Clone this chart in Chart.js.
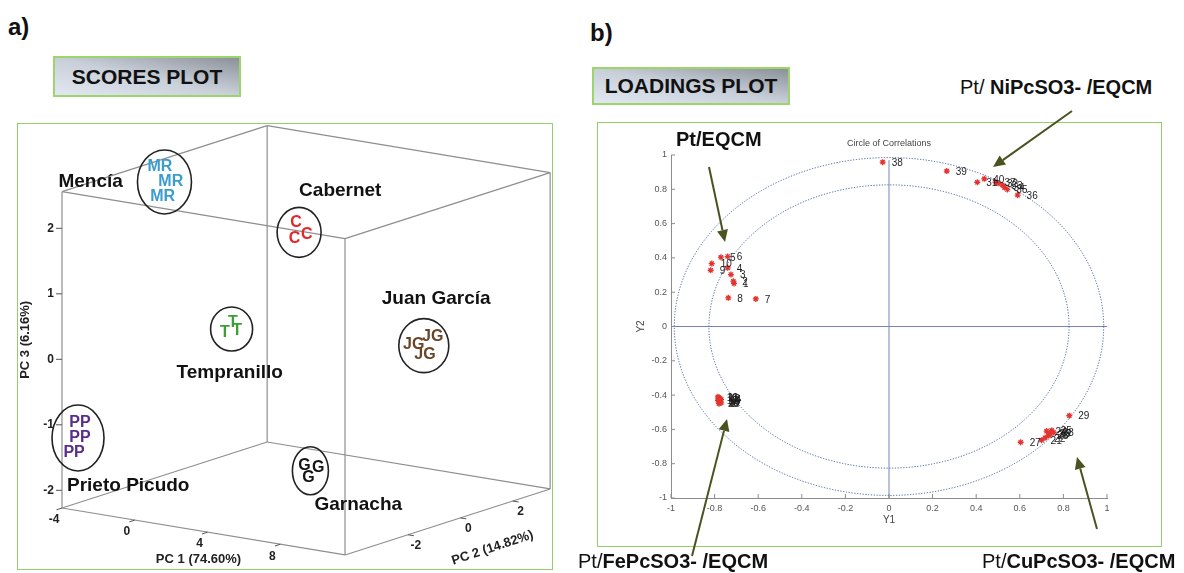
<!DOCTYPE html>
<html>
<head>
<meta charset="utf-8">
<title>Scores and loadings plot</title>
<script src="https://cdn.jsdelivr.net/npm/chart.js@4.4.1/dist/chart.umd.min.js"></script>
<style>
  body { margin: 0; width: 1184px; height: 573px; position: relative; overflow: hidden; background: #fff;
         font-family: "Liberation Sans", Arial, sans-serif; color: #111; }
  .abs { position: absolute; white-space: nowrap; line-height: 1; transform: translateY(-50%); }
  .tag { font-size: 24px; font-weight: bold; }
  .box { position: absolute; box-sizing: border-box; border: 2px solid #9dd46b; font-weight: bold; font-size: 21px;
         display: flex; align-items: center; justify-content: center;
         background: linear-gradient(to top right, #e2e8f1 0%, #c8cfd9 50%, #8b9198 100%); }
  .frame { position: absolute; box-sizing: border-box; border: 1.5px solid #93cf68; }
  .note { font-size: 20px; font-weight: bold; }
  .note span { font-weight: normal; }
  canvas { position: absolute; }
</style>
</head>
<body>
<div class="abs tag" style="left:8px;top:27px">a)</div>
<div class="abs tag" style="left:590px;top:33px">b)</div>
<div class="box" style="left:53px;top:56px;width:188px;height:41px">SCORES PLOT</div>
<div class="box" style="left:592px;top:67px;width:198px;height:38px">LOADINGS PLOT</div>
<div class="frame" style="left:17px;top:123px;width:536px;height:447px"></div>
<div class="frame" style="left:597px;top:122px;width:565px;height:425px"></div>
<canvas id="scores" width="560" height="463" style="left:0;top:110px"></canvas>
<canvas id="loadings" width="594" height="463" style="left:590px;top:110px"></canvas>
<div class="abs note" style="left:676px;top:139px">Pt/EQCM</div>
<div class="abs note" style="left:960px;top:87px"><span>Pt/</span> NiPcSO3- /EQCM</div>
<div class="abs note" style="left:578px;top:561px"><span>Pt/</span>FePcSO3- /EQCM</div>
<div class="abs note" style="left:982px;top:561px"><span>Pt/</span>CuPcSO3- /EQCM</div>

<script>
var FONT = '"Liberation Sans", Arial, sans-serif';

// a) scores: three replicates per wine
var wines = ['Mencía', 'Cabernet', 'Tempranillo', 'Juan García', 'Prieto Picudo', 'Garnacha'];
var wineCodes = ['MR', 'C', 'T', 'JG', 'PP', 'G'];
var pc1Scores = [[-3.67, -3.06, -3.15], [3.89, 4.52, 4.16], [1.90, 2.16, 2.48], [9.13, 8.99, 9.78], [-3.55, -3.34, -3.71], [5.01, 5.35, 5.40]];
var pc2Scores = [[-0.89, -0.90, -1.15], [-0.95, -0.98, -1.19], [-2.28, -2.16, -2.22], [0.63, 0.00, -0.12], [-4.03, -4.17, -4.14], [-1.40, -1.12, -1.52]];
var pc3Scores = [[2.50, 2.30, 2.10], [2.00, 1.85, 1.80], [0.40, 0.55, 0.45], [0.30, 0.25, 0.15], [-1.00, -1.20, -1.45], [-1.60, -1.65, -1.75]];
var pcLimits = [[-4, 11.55], [-4.4, 3.43], [-2.27, 2.56]];
var pc1Ticks = [-4, 0, 4, 8];
var pc2Ticks = [-2, 0, 2];
var pc3Ticks = [-2, -1, 0, 1, 2];
var pcTitles = ['PC 1 (74.60%)', 'PC 2 (14.82%)', 'PC 3 (6.16%)'];

// b) loadings of the 40 sensor variables
var sensorIds = [1, 2, 3, 4, 5, 6, 7, 8, 9, 10, 11, 12, 13, 14, 15, 16, 17, 18, 19, 20,
                 21, 22, 23, 24, 25, 26, 27, 28, 29, 30, 31, 32, 33, 34, 35, 36, 37, 38, 39, 40];
var loadY1 = [-0.711, -0.714, -0.725, -0.74, -0.771, -0.74, -0.611, -0.737, -0.818, -0.813,
              -0.78, -0.775, -0.785, -0.77, -0.78, -0.775, -0.77, -0.785, -0.775, -0.78,
              0.70, 0.716, 0.731, 0.723, 0.746, 0.74, 0.604, 0.755, 0.827, 0.735,
              0.405, 0.50, 0.52, 0.53, 0.543, 0.59, 0.489, -0.029, 0.265, 0.437];
var loadY2 = [0.251, 0.264, 0.303, 0.342, 0.404, 0.408, 0.161, 0.167, 0.328, 0.367,
              -0.415, -0.42, -0.43, -0.425, -0.44, -0.435, -0.445, -0.41, -0.43, -0.45,
              -0.663, -0.649, -0.636, -0.61, -0.606, -0.625, -0.675, -0.618, -0.52, -0.628,
              0.841, 0.835, 0.825, 0.81, 0.799, 0.766, 0.841, 0.958, 0.906, 0.861];
var loadTicks = [-1, -0.8, -0.6, -0.4, -0.2, 0, 0.2, 0.4, 0.6, 0.8, 1];
var circleRadii = [0.985, 0.826];

// styles
var wineColors = ['#3a9dcc', '#e5262b', '#3b9f35', '#6b4526', '#5a2c8c', '#151515'];
var ringSize = [[27, 32], [22, 25], [21, 22], [25, 27], [26, 33], [18, 24]];
var nameOffset = [[-106, 0], [0, -42], [-55, 44], [-42, -47], [-11, 48], [4, 34]];
var view = { ax: 18.2, ay: 3.02, bx: 26.2, by: -8.43, cz: 65.5 };
var arrowLines = [[709, 167, 725, 242], [1072, 111, 993, 167], [692, 556, 727, 419], [1097, 529, 1077, 457]];

// oblique view of the PC1/PC2/PC3 box
function project(p1, p2, p3) {
  var a = p1 - pcLimits[0][0], b = p2 - pcLimits[1][0], c = p3 - pcLimits[2][0];
  return { x: view.ax * a + view.bx * b, y: -(view.ay * a + view.by * b) + view.cz * c };
}

function seg(ctx, x1, y1, x2, y2) {
  ctx.beginPath(); ctx.moveTo(x1, y1); ctx.lineTo(x2, y2); ctx.stroke();
}

var corners = [];
pcLimits[0].forEach(function (a) {
  pcLimits[1].forEach(function (b) {
    pcLimits[2].forEach(function (c) { corners.push([a, b, c]); });
  });
});
var scoreSets = [];
corners.forEach(function (p, i) {
  corners.forEach(function (q, j) {
    var diff = p.filter(function (v, k) { return v !== q[k]; }).length;
    if (j > i && diff === 1) {
      scoreSets.push({ data: [project(p[0], p[1], p[2]), project(q[0], q[1], q[2])], showLine: true,
                       borderColor: '#8e8e8e', borderWidth: 1.2, pointRadius: 0 });
    }
  });
});
wines.forEach(function (w, g) {
  scoreSets.push({ wine: g, pointRadius: 0,
    data: pc1Scores[g].map(function (v, i) { return project(v, pc2Scores[g][i], pc3Scores[g][i]); }) });
});

var scoresDeco = {
  id: 'scoresDeco',
  afterDatasetsDraw: function (chart) {
    var ctx = chart.ctx, sx = chart.scales.x, sy = chart.scales.y;
    function toPx(p1, p2, p3) {
      var v = project(p1, p2, p3);
      return [sx.getPixelForValue(v.x), sy.getPixelForValue(v.y)];
    }
    ctx.save();
    ctx.strokeStyle = '#555'; ctx.lineWidth = 1; ctx.fillStyle = '#222';
    ctx.font = 'bold 12px ' + FONT; ctx.textBaseline = 'middle'; ctx.textAlign = 'center';
    pc1Ticks.forEach(function (t) {
      var p = toPx(t, pcLimits[1][0], pcLimits[2][0]);
      seg(ctx, p[0], p[1], p[0] - 5.5, p[1] + 1.8);
      ctx.fillText(String(t), p[0] - 8, p[1] + 12);
    });
    pc2Ticks.forEach(function (t) {
      var p = toPx(pcLimits[0][1], t, pcLimits[2][0]);
      seg(ctx, p[0], p[1], p[0] + 6, p[1] + 1);
      ctx.fillText(String(t), p[0] + 8, p[1] + 11);
    });
    ctx.textAlign = 'right';
    pc3Ticks.forEach(function (t) {
      var p = toPx(pcLimits[0][0], pcLimits[1][0], t);
      seg(ctx, p[0], p[1], p[0] - 6, p[1]);
      ctx.fillText(String(t), p[0] - 8, p[1]);
    });

    // axis titles
    ctx.font = 'bold 13px ' + FONT; ctx.textAlign = 'center';
    var m1 = toPx((pcLimits[0][0] + pcLimits[0][1]) / 2, pcLimits[1][0], pcLimits[2][0]);
    ctx.fillText(pcTitles[0], m1[0] - 5, m1[1] + 28);
    var m2 = toPx(pcLimits[0][1], (pcLimits[1][0] + pcLimits[1][1]) / 2, pcLimits[2][0]);
    ctx.save(); ctx.translate(m2[0] + 45, m2[1] + 26); ctx.rotate(-18.4 * Math.PI / 180);
    ctx.fillText(pcTitles[1], 0, 0); ctx.restore();
    var m3 = toPx(pcLimits[0][0], pcLimits[1][0], (pcLimits[2][0] + pcLimits[2][1]) / 2);
    ctx.save(); ctx.translate(m3[0] - 37, m3[1] - 10); ctx.rotate(-Math.PI / 2);
    ctx.fillText(pcTitles[2], 0, 0); ctx.restore();

    // wine groups
    chart.data.datasets.forEach(function (ds, di) {
      if (ds.wine == null) return;
      var g = ds.wine, pts = chart.getDatasetMeta(di).data;
      var cx = 0, cy = 0;
      pts.forEach(function (p) { cx += p.x / pts.length; cy += p.y / pts.length; });
      ctx.strokeStyle = '#222'; ctx.lineWidth = 1.6;
      ctx.beginPath(); ctx.ellipse(cx, cy, ringSize[g][0], ringSize[g][1], 0, 0, 2 * Math.PI); ctx.stroke();
      ctx.fillStyle = wineColors[g]; ctx.font = 'bold 16px ' + FONT; ctx.textAlign = 'center';
      pts.forEach(function (p) { ctx.fillText(wineCodes[g], p.x, p.y); });
      ctx.fillStyle = '#111'; ctx.font = 'bold 19px ' + FONT; ctx.textAlign = 'left';
      ctx.fillText(wines[g], cx + nameOffset[g][0], cy + nameOffset[g][1]);
    });
    ctx.restore();
  }
};

new Chart(document.getElementById('scores'), {
  type: 'scatter',
  data: { datasets: scoreSets },
  options: {
    responsive: false, animation: false, devicePixelRatio: 1,
    layout: { padding: 0 },
    plugins: { legend: { display: false }, tooltip: { enabled: false } },
    scales: {
      x: { type: 'linear', display: false, min: -62, max: 498 },
      y: { type: 'linear', display: false, min: -65, max: 398 }
    }
  },
  plugins: [scoresDeco]
});

var loadingsDeco = {
  id: 'loadingsDeco',
  beforeDatasetsDraw: function (chart) {
    var ctx = chart.ctx, x = chart.scales.x, y = chart.scales.y;
    var cx = x.getPixelForValue(0), cy = y.getPixelForValue(0);
    ctx.save();
    ctx.strokeStyle = '#7483b8'; ctx.lineWidth = 1;
    seg(ctx, x.getPixelForValue(-1), cy, x.getPixelForValue(1), cy);
    seg(ctx, cx, y.getPixelForValue(-1), cx, y.getPixelForValue(0.97));
    ctx.strokeStyle = '#3f5d9e'; ctx.setLineDash([1.2, 1.6]);
    circleRadii.forEach(function (r) {
      ctx.beginPath();
      ctx.ellipse(cx, cy, x.getPixelForValue(r) - cx, cy - y.getPixelForValue(r), 0, 0, 2 * Math.PI);
      ctx.stroke();
    });
    ctx.restore();
  },
  afterDatasetsDraw: function (chart) {
    var ctx = chart.ctx, x = chart.scales.x, y = chart.scales.y, area = chart.chartArea;
    ctx.save();
    // inward tick marks
    ctx.strokeStyle = '#8c8c8c'; ctx.lineWidth = 1;
    loadTicks.forEach(function (t) {
      var px = x.getPixelForValue(t), py = y.getPixelForValue(t);
      seg(ctx, px, area.bottom, px, area.bottom - 4);
      seg(ctx, area.left, py, area.left + 4, py);
    });
    // variable numbers
    ctx.fillStyle = '#1e1e1e'; ctx.font = '10px ' + FONT; ctx.textBaseline = 'middle'; ctx.textAlign = 'left';
    chart.getDatasetMeta(0).data.forEach(function (p, i) {
      ctx.fillText(String(sensorIds[i]), p.x + 9, p.y + 1);
    });
    ctx.fillStyle = '#444'; ctx.font = '9px ' + FONT; ctx.textAlign = 'center';
    ctx.fillText('Circle of Correlations', x.getPixelForValue(0), area.top - 11);
    // arrows pointing at the sensor groups
    ctx.strokeStyle = '#4a5320'; ctx.fillStyle = '#4a5320'; ctx.lineWidth = 2;
    var ox = 590, oy = 110;
    arrowLines.forEach(function (a) {
      var x1 = a[0] - ox, y1 = a[1] - oy, x2 = a[2] - ox, y2 = a[3] - oy;
      var ang = Math.atan2(y2 - y1, x2 - x1);
      var bx = x2 - 12 * Math.cos(ang), by = y2 - 12 * Math.sin(ang);
      seg(ctx, x1, y1, bx, by);
      ctx.beginPath();
      ctx.moveTo(x2, y2);
      ctx.lineTo(bx + 5.5 * Math.sin(ang), by - 5.5 * Math.cos(ang));
      ctx.lineTo(bx - 5.5 * Math.sin(ang), by + 5.5 * Math.cos(ang));
      ctx.closePath(); ctx.fill();
    });
    ctx.restore();
  }
};

var tickFont = { family: FONT, size: 9 };
new Chart(document.getElementById('loadings'), {
  type: 'scatter',
  data: {
    datasets: [{
      data: loadY1.map(function (v, i) { return { x: v, y: loadY2[i] }; }),
      pointStyle: 'star', pointRadius: 3, borderWidth: 1.3,
      borderColor: '#e3342f', backgroundColor: '#e3342f'
    }]
  },
  options: {
    responsive: false, animation: false, devicePixelRatio: 1,
    layout: { padding: { left: 45, right: 77, top: 45, bottom: 47 } },
    plugins: { legend: { display: false }, tooltip: { enabled: false } },
    scales: {
      x: {
        type: 'linear', min: -1, max: 1,
        afterBuildTicks: function (s) { s.ticks = loadTicks.map(function (v) { return { value: v }; }); },
        afterFit: function (s) { s.height = 28; },
        grid: { display: false, drawTicks: false }, border: { color: '#8c8c8c' },
        ticks: { font: tickFont, color: '#555', padding: 5, maxRotation: 0, autoSkip: false,
                 callback: function (v) { return String(Math.round(v * 10) / 10); } },
        title: { display: true, text: 'Y1', font: { family: FONT, size: 10 }, color: '#444', padding: 0 }
      },
      y: {
        type: 'linear', min: -1, max: 1,
        afterBuildTicks: function (s) { s.ticks = loadTicks.map(function (v) { return { value: v }; }); },
        afterFit: function (s) { s.width = 36; },
        grid: { display: false, drawTicks: false }, border: { color: '#8c8c8c' },
        ticks: { font: tickFont, color: '#555', padding: 4, autoSkip: false,
                 callback: function (v) { return String(Math.round(v * 10) / 10); } },
        title: { display: true, text: 'Y2', font: { family: FONT, size: 10 }, color: '#444', padding: 0 }
      }
    }
  },
  plugins: [loadingsDeco]
});
</script>
</body>
</html>
